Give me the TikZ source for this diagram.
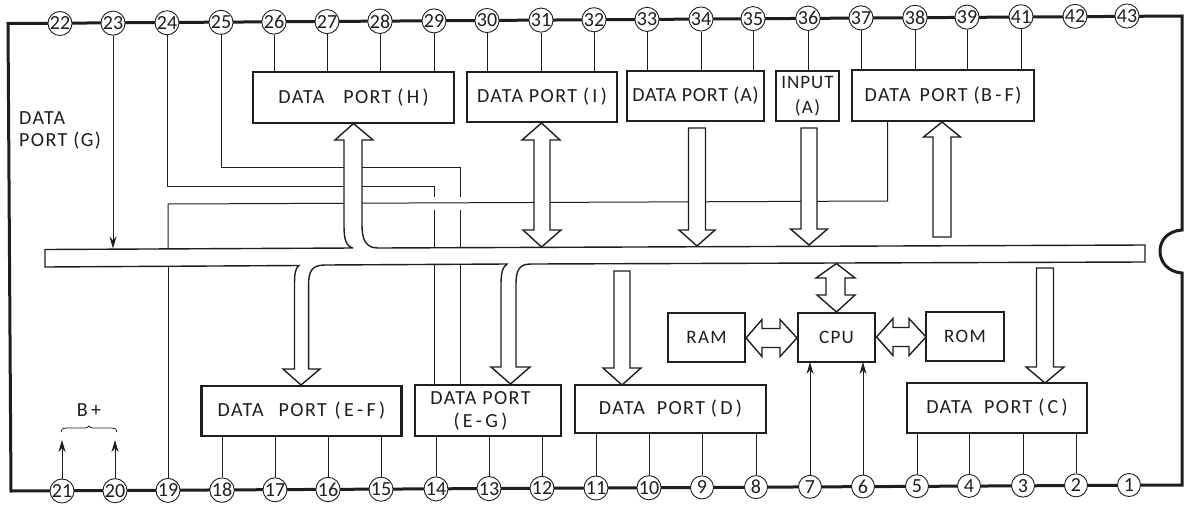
\documentclass[tikz,border=0pt]{standalone}
\usepackage{fontspec}
\usetikzlibrary{arrows.meta,calc}
\setmainfont[LetterSpace=7]{Carlito}
\newfontfamily\pinfont{Carlito}
\definecolor{ink}{HTML}{1E1E1E}
\tikzset{
  outline/.style={draw=ink,line width=3pt,line join=miter},
  wire/.style={draw=ink,line width=1pt},
  arrowwire/.style={wire,-{Stealth[length=12pt,width=7pt]}},
  hollow/.style={draw=ink,fill=white,line width=1.4pt,line join=miter},
  pincirc/.style={circle,draw=ink,fill=white,line width=0.9pt,minimum size=23pt,inner sep=0pt,font=\pinfont\fontsize{20}{20}\selectfont,text=ink},
  portbox/.style={rectangle,draw=ink,fill=white,line width=2.8pt,inner sep=0pt,outer sep=0pt,align=center,text=ink,font=\fontsize{20}{24}\selectfont},
  plain/.style={inner sep=0pt,text=ink,align=left,font=\fontsize{20}{22}\selectfont}
}
% centre x, top y, head base y, tip y, shaft half, head half
\newcommand{\hollowarrow}[6]{%
  \path[hollow] (#1-#5,#2) -- (#1-#5,#3) -- (#1-#6,#3) -- (#1,#4) -- (#1+#6,#3) -- (#1+#5,#3) -- (#1+#5,#2) -- cycle;}
\begin{document}
\begin{tikzpicture}[x=1pt,y=-1pt]
\useasboundingbox (0,0) rectangle (1187,504);
\fill[white] (0,0) rectangle (1187,504);
% package outline
\draw[outline] (8,23.5) -- (1182,16) -- (1182,230)
  .. controls (1168,231) and (1160,240) .. (1160,251)
  .. controls (1160,262) and (1168,272) .. (1182,273)
  -- (1182,485) -- (11,491) -- cycle;
% pins
\foreach \n/\xx in {22/60,23/113,24/167,25/221,26/274,27/327,28/380,29/434,30/487,31/541,32/594,33/647,34/701,35/753,36/808,37/861,38/915,39/967,41/1021,42/1075,43/1127}{
  \pgfmathsetmacro\yy{23.5-(\xx-60)*0.00703}
  \node[pincirc] (p\n) at (\xx,\yy) {\n};}
\foreach \n/\xx in {21/62,20/115,19/168,18/222,17/275,16/328,15/381,14/436,13/489,12/542,11/596,10/649,9/702,8/756,7/810,6/863,5/917,4/969,3/1023,2/1076,1/1129}{
  \pgfmathsetmacro\yy{491-(\xx-62)*0.00562}
  \node[pincirc] (p\n) at (\xx,\yy) {\n};}
% boxes
\node[portbox,minimum width=201pt,minimum height=51pt] (H) at (353.5,97.5) {DATA\hspace{13pt} PORT (\,H\,)};
\node[portbox,minimum width=150pt,minimum height=50pt] (I) at (542,97) {DATA PORT (\,I\,)};
\node[portbox,minimum width=137pt,minimum height=50pt] (A) at (695.5,96) {\addfontfeature{LetterSpace=4}DATA PORT (A)};
\node[portbox,minimum width=63pt,minimum height=50pt,font=\fontsize{19}{25}\selectfont] (INP) at (807.5,96) {\addfontfeature{LetterSpace=5}INPUT\\(A)};
\node[portbox,minimum width=182pt,minimum height=51pt] (BF) at (943,95.5) {DATA\hspace{3pt} PORT (B\,-\,F)};
\node[portbox,minimum width=200pt,minimum height=50pt] (EF) at (301.5,411) {DATA\hspace{9pt} PORT\hspace{2pt} (\,E\,-\,F\,)};
\node[portbox,minimum width=146pt,minimum height=51pt,font=\fontsize{20}{23}\selectfont] (EG) at (488,410.5) {DATA PORT\hspace*{15pt}\\(\,E\,-\,G\,)\hspace*{15pt}};
\node[portbox,minimum width=191pt,minimum height=48pt] (D) at (670.5,409) {DATA\hspace{6pt} PORT (\,D\,)};
\node[portbox,minimum width=180pt,minimum height=50pt] (C) at (997,408) {DATA\hspace{6pt} PORT (\,C\,)};
\node[portbox,minimum width=77pt,minimum height=49pt,font=\fontsize{19}{24}\selectfont] (RAM) at (706.5,337.5) {RAM};
\node[portbox,minimum width=77pt,minimum height=49pt,font=\fontsize{19}{24}\selectfont] (CPU) at (836.5,337.5) {CPU};
\node[portbox,minimum width=78pt,minimum height=49pt,font=\fontsize{19}{24}\selectfont] (ROM) at (965,336.5) {ROM};
% pin-to-box wires
\foreach \n/\b in {26/H,27/H,28/H,29/H,30/I,31/I,32/I,33/A,34/A,35/A,36/INP,37/BF,38/BF,39/BF,41/BF}{
  \draw[wire] (p\n.south) -- (p\n.south |- \b.north);}
\foreach \n/\b in {18/EF,17/EF,16/EF,15/EF,14/EG,13/EG,12/EG,11/D,10/D,9/D,8/D,5/C,4/C,3/C,2/C}{
  \draw[wire] (p\n.north) -- (p\n.north |- \b.south);}
\draw[arrowwire] (p7.north) -- (p7.north |- CPU.south);
\draw[arrowwire] (p6.north) -- (p6.north |- CPU.south);
\coordinate (b21) at (62,440);
\coordinate (b20) at (115,440);
\draw[arrowwire] (p21.north) -- (b21);
\draw[arrowwire] (p20.north) -- (b20);
\coordinate (bus23) at (113,248.5);
\draw[arrowwire] (p23.south) -- (bus23);
% routed wires
\coordinate (w25a) at (460,167);
\coordinate (w25b) at (460,197);
\coordinate (w25c) at (460,210);
\coordinate (w25d) at (460,247);
\coordinate (w25e) at (460,264);
\coordinate (w24a) at (434,186);
\coordinate (w24b) at (434,197);
\coordinate (w24c) at (434,210);
\coordinate (w24d) at (434,247);
\coordinate (w24e) at (434,264);
\draw[wire] (p25.south) |- (w25a) -- (w25b);
\draw[wire] (w25c) -- (w25d);
\draw[wire] (w25e) -- (w25e |- EG.north);
\draw[wire] (p24.south) |- (w24a) -- (w24b);
\draw[wire] (w24c) -- (w24d);
\draw[wire] (w24e) -- (w24e |- EG.north);
\coordinate (w19a) at (168,249);
\coordinate (w19b) at (168,204);
\coordinate (w19c) at (887.5,201);
\draw[wire] (w19a) -- (w19b) -- (w19c) -- (w19c |- BF.south);
\coordinate (w19d) at (168,266.5);
\draw[wire] (p19.north) -- (w19d);
% bus with its opening arrows
\path[hollow] (353,248) -- (45,249.5) -- (45,267) -- (299,265.5)
  .. controls (295,268) and (294.5,275) .. (294.5,285)
  -- (294.5,369) -- (283,369) -- (301,385) -- (320,369) -- (308.6,369) -- (308.6,285)
  .. controls (308.6,271) and (312,265) .. (325,265)
  -- (507,264) .. controls (502,267) and (501,275) .. (501,285)
  -- (501,367) -- (491,367) -- (510.5,384) -- (530,367) -- (516,367) -- (516,285)
  .. controls (516,270) and (519,264) .. (531,264)
  -- (1145,262) -- (1145,245) -- (378,248)
  .. controls (366,248) and (362,240) .. (362,225)
  -- (362,140) -- (373,140) -- (353.5,123.5) -- (335,140) -- (344,140) -- (344,225)
  .. controls (344,240) and (346,246) .. (353,248);
% hollow arrows
\path[hollow] (534,140) -- (522,140) -- (541.5,123) -- (560,140) -- (550,140) -- (550,230) -- (561,230) -- (541.5,247) -- (523,230) -- (534,230) -- cycle;
\hollowarrow{697}{128}{230}{246}{8.5}{18}
\hollowarrow{809}{128}{229}{245}{8}{18.5}
\hollowarrow{942}{237}{137}{122}{9}{18.5}
\hollowarrow{622}{271}{368}{385}{8}{19}
\hollowarrow{1045}{268}{367}{383}{8.5}{19}
\path[hollow] (826,278) -- (816,278) -- (836.5,263.5) -- (855,278) -- (845,278) -- (845,295) -- (855,295) -- (836.5,312) -- (817,295) -- (826,295) -- cycle;
\path[hollow] (762,328.5) -- (762,319.5) -- (746,338) -- (762,356.5) -- (762,347.5) -- (780,347.5) -- (780,356.5) -- (797,338) -- (780,319.5) -- (780,328.5) -- cycle;
\path[hollow] (893,327.5) -- (893,318.5) -- (876.5,337) -- (893,355.5) -- (893,346.5) -- (909,346.5) -- (909,355.5) -- (926,337) -- (909,318.5) -- (909,327.5) -- cycle;
% brace and free labels
\coordinate (brL) at (61,432);
\coordinate (brR) at (117,432);
\coordinate (brT) at (89,426);
\draw[ink,line width=0.8pt] (brL) .. controls (61,429) and (63,428) .. (66,428) -- (85,428) .. controls (87,428) and (88,427) .. (brT) .. controls (90,427) and (91,428) .. (93,428) -- (112,428) .. controls (115,428) and (117,429) .. (brR);
\node[plain] (bplus) at (89,410) {B\,+};
\node[plain,anchor=west] (gport) at (19,130) {DATA\\PORT (G)};
\end{tikzpicture}
\end{document}
